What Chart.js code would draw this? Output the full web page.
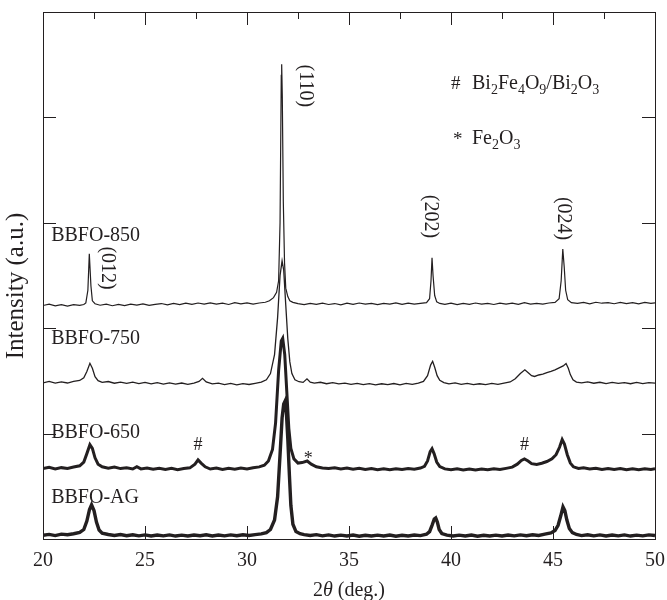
<!DOCTYPE html>
<html>
<head>
<meta charset="utf-8">
<script src="https://cdn.jsdelivr.net/npm/chart.js@4.4.0/dist/chart.umd.min.js"></script>
<style>
  html, body { margin: 0; padding: 0; background: #fff; }
  canvas { display: block; }
</style>
</head>
<body>
<canvas id="xrd" width="667" height="600"></canvas>
<script>
// 2theta (deg) vs intensity (a.u.), traces already offset as in the figure
const bbfo850 = [
  [20.0,221.5],[20.3,222.8],[20.6,221.2],[20.9,222.4],[21.2,220.9],[21.5,222.3],[21.8,221.6],[22.0,222.5],
  [22.1,224],[22.2,236],[22.27,270.5],[22.35,240],[22.42,226],[22.55,223.2],[22.8,221.8],[23.1,222.9],
  [23.4,221.3],[23.7,222.6],[24.0,221.5],[24.3,222.9],[24.6,221.9],[24.9,223.1],[25.2,221.7],[25.5,222.6],
  [25.8,223.4],[26.1,222.1],[26.4,223.5],[26.7,222.4],[27.0,223.8],[27.3,222.6],[27.6,223.9],[27.9,222.8],
  [28.2,224.1],[28.5,222.9],[28.8,223.7],[29.1,222.5],[29.4,224.2],[29.7,223.0],[30.0,224.0],[30.3,222.8],
  [30.6,223.9],[30.9,224.6],[31.1,226],[31.3,229],[31.45,234],[31.55,245],[31.62,300],[31.68,440],
  [31.70,450.5],[31.73,420],[31.78,320],[31.84,262],[31.9,238],[32.0,230],[32.1,226],[32.25,224.5],
  [32.5,223.3],[32.8,222.4],[33.1,223.6],[33.4,222.7],[33.7,223.8],[34.0,222.5],[34.3,223.4],[34.6,222.2],
  [34.9,223.7],[35.2,222.6],[35.5,223.9],[35.8,222.8],[36.1,223.5],[36.4,222.3],[36.7,223.6],[37.0,222.9],
  [37.3,224.0],[37.6,222.7],[37.9,223.8],[38.2,222.9],[38.5,223.6],[38.8,224.3],[38.95,228],[39.02,245],
  [39.07,266.7],[39.12,250],[39.2,231],[39.3,225],[39.45,223.5],[39.7,222.6],[40.0,223.7],[40.3,222.4],
  [40.6,223.5],[40.9,222.7],[41.2,223.9],[41.5,222.8],[41.8,223.6],[42.1,222.5],[42.4,223.7],[42.7,222.9],
  [43.0,223.8],[43.3,222.6],[43.6,224.2],[43.9,222.9],[44.2,223.6],[44.5,222.8],[44.8,223.9],[45.1,224.5],
  [45.3,228],[45.4,245],[45.48,275],[45.55,258],[45.62,236],[45.72,227],[45.9,224.2],[46.2,223.5],
  [46.5,224.4],[46.8,223.1],[47.1,224.6],[47.4,223.7],[47.7,224.2],[48.0,223.2],[48.3,224.5],[48.6,223.4],
  [48.9,224.3],[49.2,223.1],[49.5,224.4],[49.8,223.6],[50.0,224.0]
];

const bbfo750 = [
  [20.0,148.2],[20.3,149.5],[20.6,147.9],[20.9,149.1],[21.2,148.0],[21.5,149.6],[21.8,150.4],[22.0,153],
  [22.15,159],[22.3,166.7],[22.42,162],[22.55,154],[22.7,150.2],[22.9,148.6],[23.2,149.4],[23.5,147.8],
  [23.8,148.9],[24.1,147.6],[24.4,148.8],[24.7,147.4],[25.0,148.5],[25.3,147.2],[25.6,148.3],[25.9,147.0],
  [26.2,148.1],[26.5,146.9],[26.8,148.0],[27.1,146.8],[27.4,147.9],[27.65,149.5],[27.82,152.4],[28.0,149],
  [28.3,147.1],[28.6,147.9],[28.9,146.5],[29.2,147.6],[29.5,146.3],[29.8,147.4],[30.1,146.6],[30.4,147.7],
  [30.7,148.8],[30.95,151],[31.15,157],[31.35,175],[31.5,210],[31.62,250],[31.72,263.8],[31.8,255],
  [31.9,222],[32.0,190],[32.1,168],[32.2,157],[32.35,151],[32.55,149.2],[32.75,148.6],[32.94,152],
  [33.1,148.8],[33.3,147.9],[33.6,148.7],[33.9,147.3],[34.2,148.4],[34.5,147.1],[34.8,147.9],[35.1,146.8],
  [35.4,147.6],[35.7,146.5],[36.0,147.4],[36.3,146.2],[36.6,147.3],[36.9,146.4],[37.2,147.5],[37.5,146.3],
  [37.8,147.6],[38.1,146.8],[38.4,147.9],[38.65,149.5],[38.85,155],[39.0,165],[39.1,168.6],[39.2,163],
  [39.32,155],[39.45,150.5],[39.65,148.4],[39.9,147.2],[40.2,148.1],[40.5,146.7],[40.8,147.6],[41.1,146.4],
  [41.4,147.3],[41.7,146.5],[42.0,147.6],[42.3,146.8],[42.6,147.9],[42.9,149.0],[43.15,152],[43.4,157],
  [43.62,160.5],[43.8,157.5],[43.95,155],[44.1,154.2],[44.3,155.6],[44.5,156.4],[44.7,157.8],[44.9,159.1],
  [45.1,160.5],[45.3,162.4],[45.5,164.2],[45.64,166.5],[45.75,162],[45.85,156],[45.98,151],[46.15,148.9],
  [46.4,148.1],[46.7,149.0],[47.0,147.8],[47.3,148.7],[47.6,147.5],[47.9,148.6],[48.2,147.6],[48.5,148.4],
  [48.8,147.3],[49.1,148.5],[49.4,147.4],[49.7,148.3],[50.0,147.9]
];

const bbfo650 = [
  [20.0,66.8],[20.3,68.0],[20.6,66.5],[20.9,67.7],[21.2,66.9],[21.5,68.3],[21.8,69.5],[22.0,73],
  [22.15,81],[22.3,89.5],[22.42,86],[22.55,77],[22.7,71],[22.9,68.5],[23.2,67.1],[23.5,68.2],
  [23.8,66.8],[24.1,67.6],[24.4,66.4],[24.6,68.6],[24.8,66.5],[25.1,67.3],[25.4,66.1],[25.7,67.2],
  [26.0,65.9],[26.3,67.0],[26.6,65.8],[26.9,66.9],[27.2,67.5],[27.45,71],[27.6,75],[27.75,72],
  [27.95,68.5],[28.2,66.4],[28.5,67.3],[28.8,66.0],[29.1,67.1],[29.4,66.3],[29.7,67.4],[30.0,66.5],
  [30.3,67.6],[30.6,68.4],[30.85,70],[31.05,74],[31.25,85],[31.4,110],[31.55,160],[31.68,188],
  [31.75,190.5],[31.85,175],[31.95,140],[32.05,105],[32.15,86],[32.3,76],[32.5,72],[32.7,72.5],
  [32.95,74],[33.15,71],[33.4,68.5],[33.7,67.4],[34.0,66.8],[34.3,67.6],[34.6,66.4],[34.9,67.3],
  [35.2,66.2],[35.5,67.1],[35.8,65.9],[36.1,66.8],[36.4,65.7],[36.7,66.6],[37.0,65.8],[37.3,66.7],
  [37.6,65.9],[37.9,66.8],[38.2,66.1],[38.5,67.3],[38.7,69],[38.85,74],[38.98,83],[39.07,85.7],
  [39.17,81],[39.3,73],[39.45,68.8],[39.7,66.5],[40.0,65.8],[40.3,66.7],[40.6,65.6],[40.9,66.5],
  [41.2,65.5],[41.5,66.4],[41.8,65.7],[42.1,66.6],[42.4,65.9],[42.7,67.0],[43.0,68.2],[43.25,71],
  [43.45,74.5],[43.6,76],[43.78,74],[43.95,71.5],[44.2,70.8],[44.45,71.9],[44.7,73.5],[44.95,76],
  [45.15,80],[45.32,87],[45.45,94.3],[45.56,90],[45.7,80],[45.85,72],[46.0,68.5],[46.25,66.9],
  [46.5,67.6],[46.8,66.4],[47.1,67.2],[47.4,66.0],[47.7,66.9],[48.0,65.9],[48.3,66.8],[48.6,65.7],
  [48.9,66.6],[49.2,65.8],[49.5,66.7],[49.8,66.0],[50.0,66.6]
];

const bbfoAG = [
  [20.0,3.5],[20.3,4.4],[20.6,3.2],[20.9,4.6],[21.2,4.1],[21.5,5.0],[21.8,6.2],[22.0,9],
  [22.15,17],[22.28,28],[22.38,32.4],[22.5,27],[22.62,16],[22.75,8.5],[22.9,5.6],[23.2,4.3],
  [23.5,3.4],[23.8,4.2],[24.1,3.1],[24.4,4.0],[24.7,3.0],[25.0,3.9],[25.3,2.9],[25.6,3.8],
  [25.9,3.0],[26.2,3.9],[26.5,2.8],[26.8,3.7],[27.1,2.9],[27.4,3.8],[27.7,3.1],[28.0,4.0],
  [28.3,2.9],[28.6,3.8],[28.9,3.0],[29.2,3.9],[29.5,3.1],[29.8,4.0],[30.1,3.3],[30.4,4.2],
  [30.7,4.8],[30.95,6],[31.15,9],[31.35,18],[31.5,40],[31.62,80],[31.72,115],[31.8,128],
  [31.86,130.5],[31.93,120],[32.0,95],[32.08,60],[32.15,32],[32.25,14],[32.4,7],[32.6,5],
  [32.8,4.2],[33.1,3.4],[33.4,4.1],[33.7,3.0],[34.0,3.9],[34.3,2.8],[34.6,3.7],[34.9,2.9],
  [35.2,3.8],[35.5,2.7],[35.8,3.6],[36.1,2.8],[36.4,3.7],[36.7,2.9],[37.0,3.8],[37.3,2.7],
  [37.6,3.6],[37.9,2.9],[38.2,3.8],[38.5,3.2],[38.8,4.5],[38.95,7],[39.07,13],[39.18,19],
  [39.25,20],[39.33,16],[39.42,9],[39.55,5.2],[39.8,3.6],[40.1,2.8],[40.4,3.7],[40.7,2.9],
  [41.0,3.8],[41.3,2.7],[41.6,3.6],[41.9,2.8],[42.2,3.7],[42.5,2.9],[42.8,3.8],[43.1,3.0],
  [43.4,3.9],[43.7,3.1],[44.0,4.0],[44.3,3.4],[44.6,4.6],[44.9,5.8],[45.1,8],[45.25,13],
  [45.38,22],[45.49,30.5],[45.58,27],[45.68,18],[45.8,10],[45.95,6],[46.15,4.3],[46.4,3.2],
  [46.7,4.0],[47.0,3.0],[47.3,3.9],[47.6,2.9],[47.9,3.8],[48.2,3.0],[48.5,3.9],[48.8,2.8],
  [49.1,3.7],[49.4,3.0],[49.7,3.9],[50.0,3.3]
];

const sampleNames = ["BBFO-850", "BBFO-750", "BBFO-650", "BBFO-AG"];
const xTicks = [20, 25, 30, 35, 40, 45, 50];
const yTicks = [0, 100, 200, 300, 400, 500];

const INK = "#231f20";
const SERIF = "'Liberation Serif', 'Times New Roman', serif";

// draw text made of [string, isSubscript] pieces
function drawChem(ctx, parts, x, y, size) {
  let cx = x;
  parts.forEach(([s, sub]) => {
    ctx.font = (sub ? size * 0.7 : size) + "px " + SERIF;
    ctx.fillText(s, cx, sub ? y + size * 0.27 : y);
    cx += ctx.measureText(s).width;
  });
}

const decorPlugin = {
  id: "decor",
  afterDraw(chart) {
    const ctx = chart.ctx;
    const a = chart.chartArea;
    const xs = chart.scales.x;
    const ys = chart.scales.y;
    ctx.save();
    ctx.strokeStyle = INK;
    ctx.fillStyle = INK;
    ctx.lineWidth = 1;

    // frame
    ctx.strokeRect(Math.round(a.left) + 0.5, Math.round(a.top) + 0.5,
      Math.round(a.right - a.left), Math.round(a.bottom - a.top));

    // inward ticks
    ctx.beginPath();
    for (let v = 20; v <= 50; v += 2.5) {
      const px = Math.round(xs.getPixelForValue(v)) + 0.5;
      const major = v % 5 === 0;
      ctx.moveTo(px, a.top);
      ctx.lineTo(px, a.top + (major ? 13 : 7));
      if (major) {
        ctx.moveTo(px, a.bottom);
        ctx.lineTo(px, a.bottom - 13);
      }
    }
    yTicks.forEach(v => {
      const py = Math.round(ys.getPixelForValue(v)) + 0.5;
      ctx.moveTo(a.left, py);
      ctx.lineTo(a.left + 13, py);
      ctx.moveTo(a.right, py);
      ctx.lineTo(a.right - 13, py);
    });
    ctx.stroke();

    // y title
    ctx.save();
    ctx.font = "25px " + SERIF;
    ctx.textAlign = "center";
    ctx.textBaseline = "middle";
    ctx.translate(16, ys.getPixelForValue(240));
    ctx.rotate(-Math.PI / 2);
    ctx.fillText("Intensity (a.u.)", 0, 0);
    ctx.restore();

    // sample names
    ctx.font = "20px " + SERIF;
    ctx.textAlign = "left";
    ctx.textBaseline = "middle";
    const nameY = [288, 190, 101, 39];
    sampleNames.forEach((n, i) => {
      ctx.fillText(n, xs.getPixelForValue(20.4), ys.getPixelForValue(nameY[i]));
    });

    // rotated Miller indices
    const hkl = [["(012)", 23.14, 257], ["(110)", 32.84, 430], ["(202)", 38.97, 306], ["(024)", 45.49, 304]];
    ctx.textAlign = "center";
    hkl.forEach(([t, x, y]) => {
      ctx.save();
      ctx.translate(xs.getPixelForValue(x), ys.getPixelForValue(y));
      ctx.rotate(Math.PI / 2);
      ctx.fillText(t, 0, 0);
      ctx.restore();
    });

    // impurity markers
    ctx.font = "18px " + SERIF;
    ctx.fillText("#", xs.getPixelForValue(27.6), ys.getPixelForValue(89));
    ctx.fillText("#", xs.getPixelForValue(43.6), ys.getPixelForValue(89));
    ctx.fillText("*", xs.getPixelForValue(33.0), ys.getPixelForValue(76));

    // key
    ctx.textAlign = "left";
    ctx.textBaseline = "alphabetic";
    const kx = xs.getPixelForValue(40.0);
    ctx.font = "19px " + SERIF;
    ctx.fillText("#", kx, ys.getPixelForValue(427));
    ctx.fillText("*", kx + 2, ys.getPixelForValue(374));
    drawChem(ctx, [["Bi", 0], ["2", 1], ["Fe", 0], ["4", 1], ["O", 0], ["9", 1], ["/Bi", 0], ["2", 1], ["O", 0], ["3", 1]],
      kx + 21, ys.getPixelForValue(427), 20);
    drawChem(ctx, [["Fe", 0], ["2", 1], ["O", 0], ["3", 1]], kx + 21, ys.getPixelForValue(375), 20);

    // x title with italic theta
    const tx = (a.left + a.right) / 2;
    const ty = 596;
    const p1 = "2", p2 = "\u03b8", p3 = " (deg.)";
    ctx.font = "20px " + SERIF;
    const w1 = ctx.measureText(p1).width, w3 = ctx.measureText(p3).width;
    ctx.font = "italic 20px " + SERIF;
    const w2 = ctx.measureText(p2).width;
    let sx = tx - (w1 + w2 + w3) / 2;
    ctx.font = "20px " + SERIF;
    ctx.fillText(p1, sx, ty);
    ctx.font = "italic 20px " + SERIF;
    ctx.fillText(p2, sx + w1, ty);
    ctx.font = "20px " + SERIF;
    ctx.fillText(p3, sx + w1 + w2, ty);

    ctx.restore();
  }
};

const series = [
  { label: "BBFO-AG", data: bbfoAG, borderWidth: 3.4 },
  { label: "BBFO-650", data: bbfo650, borderWidth: 3 },
  { label: "BBFO-750", data: bbfo750, borderWidth: 1.3 },
  { label: "BBFO-850", data: bbfo850, borderWidth: 1.2 }
];

new Chart(document.getElementById("xrd").getContext("2d"), {
  type: "line",
  data: {
    datasets: series.map(s => ({
      label: s.label,
      data: s.data,
      borderColor: INK,
      borderWidth: s.borderWidth,
      pointRadius: 0,
      tension: 0,
      fill: false
    }))
  },
  options: {
    responsive: false,
    animation: false,
    layout: { padding: { left: 0, right: 12, top: 12, bottom: 17 } },
    plugins: { legend: { display: false }, tooltip: { enabled: false } },
    scales: {
      x: {
        type: "linear",
        min: 20,
        max: 50,
        afterBuildTicks: s => { s.ticks = xTicks.map(v => ({ value: v })); },
        afterFit: s => { s.paddingLeft = 0; s.paddingRight = 0; },
        ticks: { color: INK, padding: 10, font: { family: SERIF, size: 20 } },
        grid: { display: false, drawTicks: false },
        border: { display: false }
      },
      y: {
        type: "linear",
        min: 0,
        max: 500,
        afterBuildTicks: s => { s.ticks = yTicks.map(v => ({ value: v })); },
        afterFit: s => { s.width = 43; },
        ticks: { display: false },
        grid: { display: false, drawTicks: false },
        border: { display: false }
      }
    }
  },
  plugins: [decorPlugin]
});
</script>
</body>
</html>
